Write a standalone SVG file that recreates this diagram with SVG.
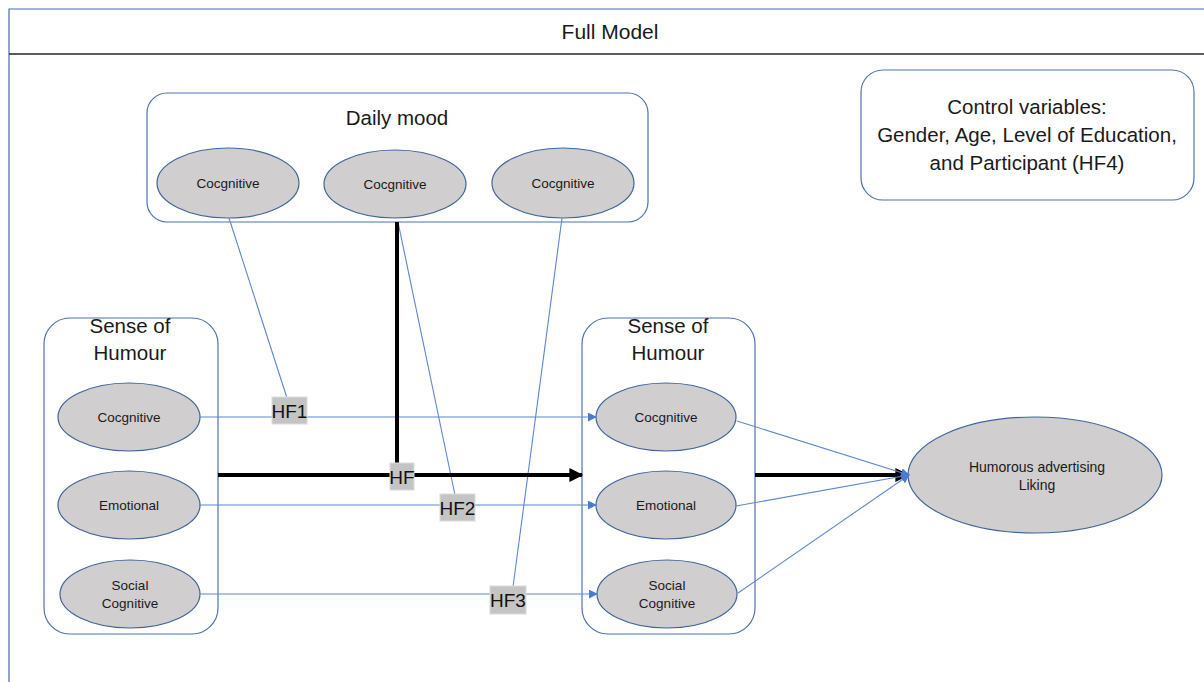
<svg xmlns="http://www.w3.org/2000/svg" width="1204" height="682" viewBox="0 0 1204 682">
  <defs>
    <style>
      text { font-family: "Liberation Sans", "Noto Sans", Arial, sans-serif; fill: #1a1a1a; text-anchor: middle; }
      .frame { fill: none; stroke: #4a6aa8; stroke-width: 1.2; }
      .group { fill: #ffffff; stroke: #4f72b5; stroke-width: 1.2; }
      .var { fill: #d0cece; stroke: #41669e; stroke-width: 1.2; }
      .vt { font-size: 13.5px; }
      .ht { font-size: 20.5px; }
      .thin { fill: none; stroke: #5b87d0; stroke-width: 1.1; }
      .thick { fill: none; stroke: #000000; stroke-width: 4; }
      .tag { fill: #c4c4c4; stroke: #dcdcdc; stroke-width: 1; }
      .tt { font-size: 19px; fill: #111111; }
    </style>
    <marker id="ab" viewBox="0 0 10 10" refX="9" refY="5" markerWidth="9" markerHeight="9" markerUnits="userSpaceOnUse" orient="auto">
      <path d="M0,0 L10,5 L0,10 z" fill="#4a7ccd"/>
    </marker>
    <marker id="ak" viewBox="0 0 10 10" refX="9" refY="5" markerWidth="14" markerHeight="14" markerUnits="userSpaceOnUse" orient="auto">
      <path d="M0,0 L10,5 L0,10 z" fill="#000000"/>
    </marker>
  </defs>

  <rect width="1204" height="682" fill="#ffffff"/>

  <!-- outer frame with title bar -->
  <g id="frame">
    <path class="frame" d="M9,690 L9,9 L1210,9"/>
    <line x1="9" y1="54" x2="1210" y2="54" stroke="#262626" stroke-width="1.5"/>
    <text x="610" y="38.5" style="font-size:21px">Full Model</text>
  </g>

  <!-- mood group -->
  <g id="daily-mood">
    <rect class="group" x="147" y="93" width="501" height="129" rx="20"/>
    <text class="ht" x="397" y="125">Daily mood</text>
  </g>
  <g id="mood-1">
    <ellipse class="var" cx="228" cy="183" rx="71" ry="35"/>
    <text class="vt" x="228" y="188">Cocgnitive</text>
  </g>
  <g id="mood-2">
    <ellipse class="var" cx="395" cy="184" rx="71" ry="34"/>
    <text class="vt" x="395" y="189">Cocgnitive</text>
  </g>
  <g id="mood-3">
    <ellipse class="var" cx="563" cy="183" rx="71" ry="35"/>
    <text class="vt" x="563" y="188">Cocgnitive</text>
  </g>

  <!-- controls -->
  <g id="controls">
    <rect class="group" x="861" y="70" width="333" height="130" rx="22"/>
    <text class="ht" x="1027" y="114">Control variables:</text>
    <text class="ht" x="1027" y="142">Gender, Age, Level of Education,</text>
    <text class="ht" x="1027" y="170">and Participant (HF4)</text>
  </g>

  <!-- left humour group -->
  <g id="humour-left">
    <rect class="group" x="44" y="318" width="174" height="316" rx="26"/>
    <text class="ht" x="130" y="333">Sense of</text>
    <text class="ht" x="130" y="360">Humour</text>
  </g>
  <g id="left-cognitive">
    <ellipse class="var" cx="129" cy="417" rx="71" ry="34"/>
    <text class="vt" x="129" y="422">Cocgnitive</text>
  </g>
  <g id="left-emotional">
    <ellipse class="var" cx="129" cy="505" rx="71" ry="34"/>
    <text class="vt" x="129" y="510">Emotional</text>
  </g>
  <g id="left-social">
    <ellipse class="var" cx="130" cy="594" rx="70" ry="34"/>
    <text class="vt" x="130" y="590">Social</text>
    <text class="vt" x="130" y="608">Cognitive</text>
  </g>

  <!-- right humour group -->
  <g id="humour-right">
    <rect class="group" x="582" y="318" width="173" height="316" rx="26"/>
    <text class="ht" x="668" y="333">Sense of</text>
    <text class="ht" x="668" y="360">Humour</text>
  </g>
  <g id="right-cognitive">
    <ellipse class="var" cx="666" cy="417" rx="70" ry="34"/>
    <text class="vt" x="666" y="422">Cocgnitive</text>
  </g>
  <g id="right-emotional">
    <ellipse class="var" cx="666" cy="505" rx="70" ry="34"/>
    <text class="vt" x="666" y="510">Emotional</text>
  </g>
  <g id="right-social">
    <ellipse class="var" cx="667" cy="594" rx="70" ry="34"/>
    <text class="vt" x="667" y="590">Social</text>
    <text class="vt" x="667" y="608">Cognitive</text>
  </g>

  <!-- outcome -->
  <g id="ad-liking">
    <ellipse class="var" cx="1035" cy="475" rx="127" ry="58"/>
    <text class="vt" x="1037" y="472" style="font-size:14px">Humorous  advertising</text>
    <text class="vt" x="1037" y="490" style="font-size:14px">Liking</text>
  </g>

  <!-- connectors -->
  <g id="connectors">
    <line class="thin" x1="229" y1="218" x2="287" y2="398"/>
    <line class="thin" x1="398" y1="222" x2="455" y2="495"/>
    <line class="thin" x1="562" y1="218" x2="513" y2="587"/>

    <line class="thin" x1="200" y1="417" x2="596" y2="417" marker-end="url(#ab)"/>
    <line class="thin" x1="200" y1="505" x2="596" y2="505" marker-end="url(#ab)"/>
    <line class="thin" x1="200" y1="594" x2="597" y2="594" marker-end="url(#ab)"/>

    <line class="thick" x1="397" y1="222" x2="397" y2="464"/>
    <line class="thick" x1="218" y1="475" x2="582" y2="475" marker-end="url(#ak)"/>
    <line class="thick" x1="755" y1="475" x2="908" y2="475" marker-end="url(#ak)"/>

    <line class="thin" x1="737" y1="421" x2="909" y2="475" marker-end="url(#ab)"/>
    <line class="thin" x1="736" y1="506" x2="909" y2="475" marker-end="url(#ab)"/>
    <line class="thin" x1="738" y1="593" x2="909" y2="475" marker-end="url(#ab)"/>

    <g id="tag-hf1">
      <rect class="tag" x="272" y="397" width="35" height="27"/>
      <text class="tt" x="289.5" y="417.5">HF1</text>
    </g>
    <g id="tag-hf">
      <rect class="tag" x="390" y="463" width="24" height="27"/>
      <text class="tt" x="402" y="483.5">HF</text>
    </g>
    <g id="tag-hf2">
      <rect class="tag" x="440" y="494" width="35" height="27"/>
      <text class="tt" x="457.5" y="514.5">HF2</text>
    </g>
    <g id="tag-hf3">
      <rect class="tag" x="490" y="586" width="36" height="28"/>
      <text class="tt" x="508" y="607">HF3</text>
    </g>
  </g>
</svg>
